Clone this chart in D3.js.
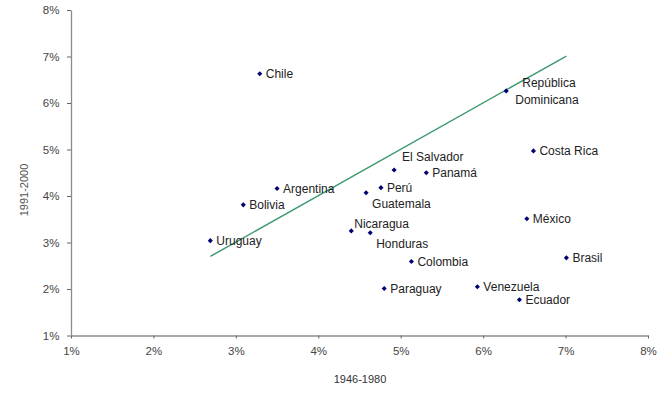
<!DOCTYPE html>
<html><head><meta charset="utf-8">
<script src="https://cdn.jsdelivr.net/npm/d3@7"></script>
<style>body{margin:0;background:#fff}svg{display:block;font-family:"Liberation Sans",Arial,sans-serif}</style>
</head><body><svg id="c" width="670" height="394"></svg>
<script>
const countries = ["Chile","República Dominicana","Costa Rica","El Salvador","Panamá","Perú","Guatemala","Argentina","Bolivia","Uruguay","Nicaragua","Honduras","Colombia","Paraguay","Venezuela","Ecuador","México","Brasil"];
const x1946 = [3.29,6.28,6.61,4.92,5.31,4.76,4.58,3.50,3.09,2.69,4.40,4.63,5.13,4.80,5.93,6.44,6.53,7.01];
const y1991 = [6.63,6.26,4.97,4.56,4.50,4.18,4.07,4.16,3.81,3.04,3.25,3.21,2.59,2.01,2.05,1.77,3.51,2.67];
const labelPos = ["right","above2","right","above","right","right","below","right","right","right","aboveR","below","right","right","right","right","right","right"];
const trendX = [2.69,7.01];
const trendY = [2.70,7.01];
const xTicks = [1,2,3,4,5,6,7,8];
const yTicks = [1,2,3,4,5,6,7,8];

const svg = d3.select("#c");
const x = d3.scaleLinear().domain([1,8]).range([71,648]);
const y = d3.scaleLinear().domain([1,8]).range([335.5,10]);
const fmt = d => d + "%";

const gx = svg.append("g").attr("transform","translate(0,335.5)")
  .call(d3.axisBottom(x).tickValues(xTicks).tickFormat(fmt).tickSize(3).tickSizeOuter(0));
const gy = svg.append("g").attr("transform","translate(71,0)")
  .call(d3.axisLeft(y).tickValues(yTicks).tickFormat(fmt).tickSize(4).tickSizeOuter(0));
[gx,gy].forEach(g=>{
  g.select(".domain").attr("stroke","#8c8c8c").attr("stroke-width",1.3);
  g.selectAll(".tick line").attr("stroke","#666");
  g.selectAll("text").attr("fill","#444").style("font-size","11.5px");
});
gx.selectAll("text").attr("dy","1.2em");
gy.selectAll("text").attr("dx","-0.4em");

svg.append("text").attr("x",360).attr("y",383).attr("text-anchor","middle")
  .attr("fill","#333").style("font-size","11px").text("1946-1980");
svg.append("text").attr("transform","translate(28,190) rotate(-90)").attr("text-anchor","middle")
  .attr("fill","#555").style("font-size","11px").text("1991-2000");

svg.append("line").attr("x1",x(trendX[0])).attr("y1",y(trendY[0]))
  .attr("x2",x(trendX[1])).attr("y2",y(trendY[1]))
  .attr("stroke","#3d9a6e").attr("stroke-width",1.4);

const pts = countries.map((c,i)=>({c,x:x1946[i],y:y1991[i],p:labelPos[i]}));
const diamond = d3.symbol().type(d3.symbolSquare).size(13);
svg.selectAll("path.pt").data(pts).enter().append("path").attr("class","pt")
  .attr("transform",d=>`translate(${x(d.x)},${y(d.y)}) rotate(45)`).attr("d",diamond).attr("fill","#000070");

const lab = svg.append("g").attr("fill","#222").style("font-size","12px");
pts.forEach(d=>{
  const px = x(d.x), py = y(d.y);
  if (d.p==="right") {
    lab.append("text").attr("x",px+6).attr("y",py+4).text(d.c);
  } else if (d.p==="above") {
    lab.append("text").attr("x",px+8).attr("y",py-9).text(d.c);
  } else if (d.p==="aboveR") {
    lab.append("text").attr("x",px+3).attr("y",py-3).text(d.c);
  } else if (d.p==="below") {
    lab.append("text").attr("x",px+6).attr("y",py+15).text(d.c);
  } else if (d.p==="above2") {
    const parts = d.c.split(" ");
    lab.append("text").attr("x",px+16).attr("y",py-4).text(parts[0]);
    lab.append("text").attr("x",px+9).attr("y",py+13).text(parts[1]);
  }
});
</script></body></html>
